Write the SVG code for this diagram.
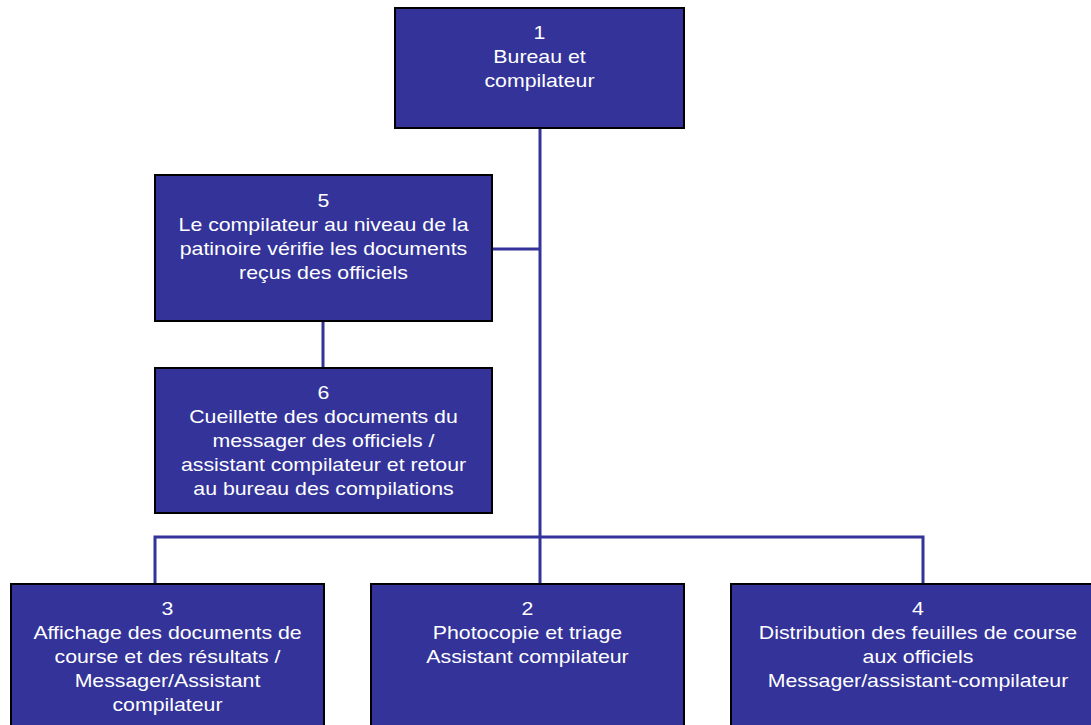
<svg xmlns="http://www.w3.org/2000/svg" width="1091" height="725" viewBox="0 0 1091 725">
<style>
.box{fill:#333399;stroke:#000;stroke-width:2}
.t{font-family:"Liberation Sans",Arial,sans-serif;font-size:18.6px;fill:#fff;text-anchor:middle}
.c{fill:none;stroke:#333399;stroke-width:3}
</style>
<rect width="1091" height="725" fill="#fff"/>
<g id="connectors">
<path class="c" d="M540 128 V584"/>
<path class="c" d="M492 249 H540"/>
<path class="c" d="M323 321 V368"/>
<path class="c" d="M155 584 V537 H923 V584"/>
</g>
<g id="n1">
<rect class="box" x="395" y="8" width="289" height="120"/>
<text class="t" transform="translate(539.5 0) scale(1.145 1)"><tspan x="0" y="39">1</tspan><tspan x="0" y="63">Bureau et</tspan><tspan x="0" y="87">compilateur</tspan></text>
</g>
<g id="n5">
<rect class="box" x="155" y="175" width="337" height="146"/>
<text class="t" transform="translate(323.5 0) scale(1.145 1)"><tspan x="0" y="207">5</tspan><tspan x="0" y="231">Le compilateur au niveau de la</tspan><tspan x="0" y="255">patinoire vérifie les documents</tspan><tspan x="0" y="279">reçus des officiels</tspan></text>
</g>
<g id="n6">
<rect class="box" x="155" y="368" width="337" height="145"/>
<text class="t" transform="translate(323.5 0) scale(1.145 1)"><tspan x="0" y="399">6</tspan><tspan x="0" y="423">Cueillette des documents du</tspan><tspan x="0" y="447">messager des officiels /</tspan><tspan x="0" y="471">assistant compilateur et retour</tspan><tspan x="0" y="495">au bureau des compilations</tspan></text>
</g>
<g id="n3">
<rect class="box" x="11" y="584" width="313" height="160"/>
<text class="t" transform="translate(167.5 0) scale(1.145 1)"><tspan x="0" y="615">3</tspan><tspan x="0" y="639">Affichage des documents de</tspan><tspan x="0" y="663">course et des résultats /</tspan><tspan x="0" y="687">Messager/Assistant</tspan><tspan x="0" y="711">compilateur</tspan></text>
</g>
<g id="n2">
<rect class="box" x="371" y="584" width="313" height="160"/>
<text class="t" transform="translate(527.5 0) scale(1.145 1)"><tspan x="0" y="615">2</tspan><tspan x="0" y="639">Photocopie et triage</tspan><tspan x="0" y="663">Assistant compilateur</tspan></text>
</g>
<g id="n4">
<rect class="box" x="731" y="584" width="374" height="160"/>
<text class="t" transform="translate(918 0) scale(1.145 1)"><tspan x="0" y="615">4</tspan><tspan x="0" y="639">Distribution des feuilles de course</tspan><tspan x="0" y="663">aux officiels</tspan><tspan x="0" y="687">Messager/assistant-compilateur</tspan></text>
</g>
</svg>
